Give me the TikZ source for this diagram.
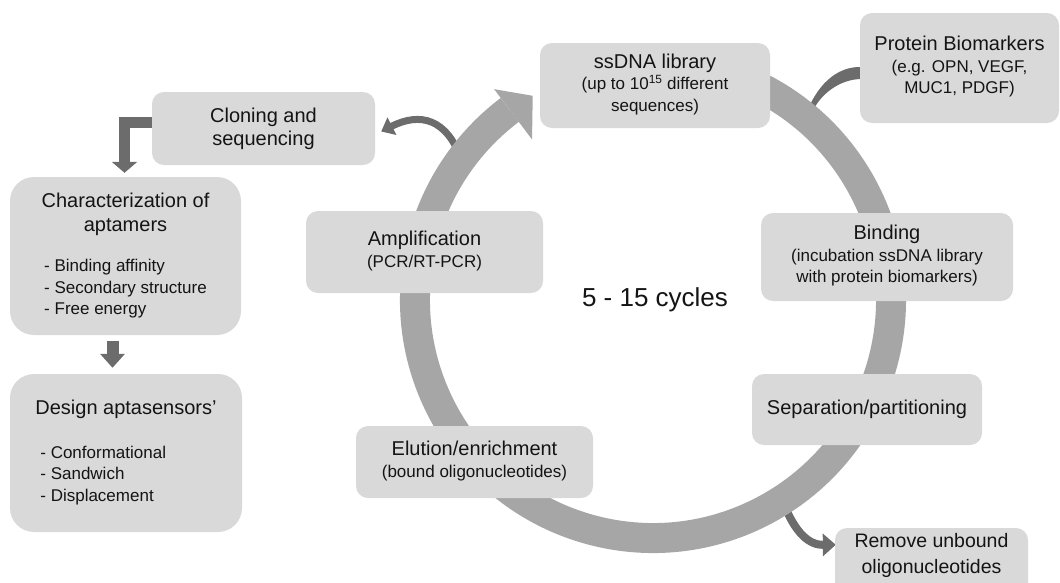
\documentclass[tikz,border=0pt]{standalone}
\usepackage{fontspec}
\setmainfont{Liberation Sans}
\usetikzlibrary{arrows.meta,calc}
\definecolor{boxc}{RGB}{217,217,217}
\definecolor{ringc}{RGB}{166,166,166}
\definecolor{darkc}{RGB}{108,108,108}
\definecolor{txtc}{RGB}{20,20,20}
\newcommand\ftt{\fontsize{20}{23}\selectfont}
\newcommand\fss{\fontsize{17}{21.5}\selectfont}
\pgfdeclarelayer{bg}
\pgfsetlayers{bg,main}
\begin{document}
\begin{tikzpicture}[x=1pt,y=-1pt,
  box/.style={fill=boxc, rounded corners=12pt, inner sep=0pt, align=center, text=txtc, font=\ftt},
  bigbox/.style={box, rounded corners=24pt},
  darr/.style={draw=darkc, line join=miter}]
\useasboundingbox (0,0) rectangle (1060,582);
\clip (0,0) rectangle (1060,582);
\coordinate (C) at (653,300);

% boxes
\node[box, minimum width=223, minimum height=73] (clon) at (263.5,128.5) {Cloning and\\sequencing};
\node[bigbox, minimum width=231, minimum height=158] (char) at (125.5,256)
  {\fontsize{20}{24}\selectfont\begin{tabular}{@{}c@{}}Characterization of\\aptamers\\[16pt]\fss\begin{tabular}[t]{@{}l@{}}- Binding affinity\\- Secondary structure\\- Free energy\end{tabular}\end{tabular}};
\node[bigbox, minimum width=232, minimum height=158] (des) at (126,453)
  {\begin{tabular}{@{}l@{}}Design aptasensors'\\[21pt]\fss\begin{tabular}[t]{@{\hspace{5pt}}l@{}}- Conformational\\- Sandwich\\- Displacement\end{tabular}\\[8pt]\end{tabular}};
\node[box, minimum width=237, minimum height=82] (amp) at (424.5,252)
  {\fss\begin{tabular}{@{}c@{}}{\ftt Amplification}\\(PCR/RT-PCR)\end{tabular}};
\node[box, minimum width=230, minimum height=85] (lib) at (655,85.5)
  {\fss\begin{tabular}{@{}c@{}}{\ftt ssDNA library}\\(up to 10\textsuperscript{15} different\\sequences)\end{tabular}};
\node[box, minimum width=199, minimum height=110] (prot) at (959.5,68)
  {\fss\begin{tabular}{@{}c@{}}{\ftt Protein Biomarkers}\\(e.g. OPN, VEGF,\\MUC1, PDGF)\end{tabular}};
\node[box, minimum width=252, minimum height=88] (bind) at (887,257)
  {\fss\begin{tabular}{@{}c@{}}{\ftt Binding}\\(incubation ssDNA library\\with protein biomarkers)\end{tabular}};
\node[box, minimum width=230, minimum height=71] (sep) at (867,409.5) {Separation/partitioning};
\node[box, minimum width=237, minimum height=72] (elu) at (474.5,462)
  {\fss\begin{tabular}{@{}c@{}}{\ftt Elution/enrichment}\\(bound oligonucleotides)\end{tabular}};
\node[box, minimum width=193, minimum height=72] (rem) at (931.5,564)
  {\fontsize{19.5}{26}\selectfont\begin{tabular}{@{}c@{}}Remove unbound\\oligonucleotides\\[18pt]\end{tabular}};
\node[font=\fontsize{26}{30}\selectfont, text=txtc] (cyc) at (655,300) {5 - 15 cycles};

\coordinate (rA) at ($(C)+(216:236)$);
\coordinate (rB) at ($(C)+(57:236)$);
\coordinate (rC) at ($(C)+(-50:240)$);

\begin{pgfonlayer}{bg}
  % side connectors leaving / entering the ring
  \fill[darkc] ($(prot.west)+(2,-1)$) .. controls (836,66) and (816,86) .. ($(rC)+(-2,0)$)
     -- ($(rC)+(3,0)$) .. controls (819,94) and (840,79) .. ($(prot.west)+(2,11)$) -- cycle;
  \draw[darr, line width=7pt, -{Triangle[length=12pt,width=19pt]}]
     (rA) .. controls (447,118) and (420,112) .. ($(clon.east)+(6,3)$);
  \draw[darr, line width=8pt, -{Triangle[length=13pt,width=22pt]}]
     (rB) .. controls (795,535) and (810,545) .. ($(rem.north west)+(1,17)$);
  % the cycle ring
  \draw[ringc, line width=30pt] ($(C)+(-75:238)$) arc[start angle=-75, end angle=233, radius=238];
  \fill[ringc] ($(C)+(233:264)$) -- ($(C)+(239.5:237)$) -- ($(C)+(233:201)$) -- cycle;
\end{pgfonlayer}

% left column arrows
\draw[darr, line width=11pt, -{Triangle[length=11pt,width=25pt]}]
   ($(clon.west)+(0,-6)$) -| ($(char.north)+(-1,-4)$);
\draw[darr, line width=12pt, -{Triangle[length=14pt,width=24pt]}]
   ($(char.south)+(-13,6)$) -- ($(des.north)+(-13.5,-6)$);
\end{tikzpicture}
\end{document}
